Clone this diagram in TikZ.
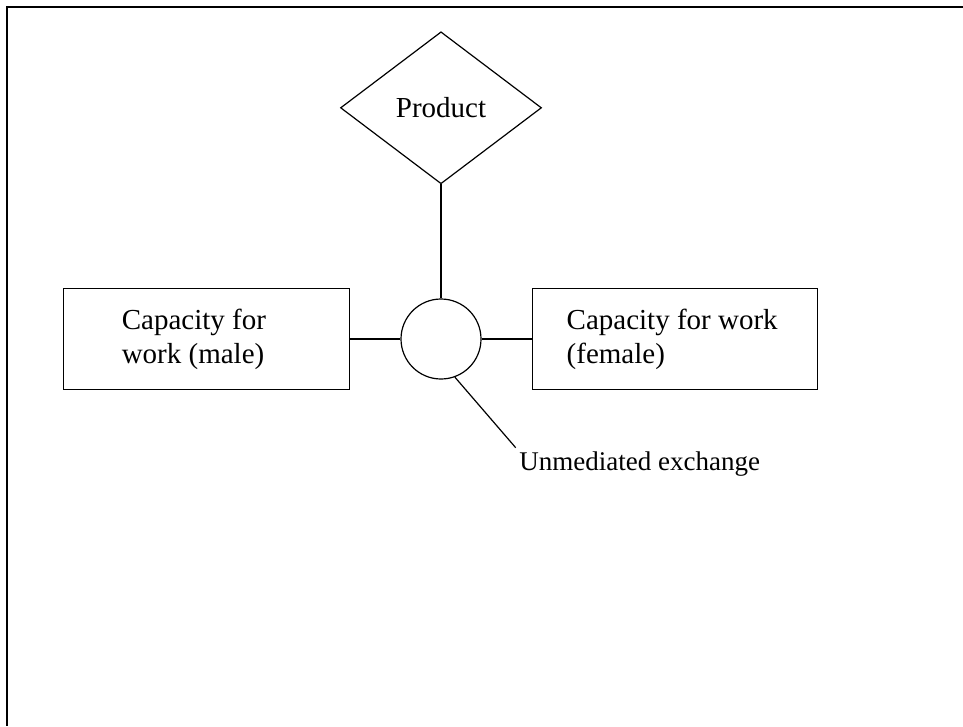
\documentclass[tikz,border=0pt]{standalone}
\usepackage{fontspec}
\setmainfont{Liberation Serif}
\usetikzlibrary{shapes.geometric,positioning}

\begin{document}
\begin{tikzpicture}[x=1pt, y=1pt, line width=1.2pt, node distance=50pt,
    font=\fontsize{29}{34}\selectfont,
    capacity/.style={rectangle, draw, align=flush left, minimum height=101pt},
    relation/.style={diamond, draw, minimum width=201pt, minimum height=152pt},
    exchange/.style={circle, draw, minimum size=80pt, inner sep=0pt}]
    \useasboundingbox (0,0) rectangle (963,-726);
    \draw[line width=1.6pt] (963,-7) -- (7,-7) -- (7,-726);
    \node (X) [exchange] at (441,-339) {};
    \node (P) [relation, above=114pt of X] {Product};
    \node (M) [capacity, left=of X, text width=170pt, inner xsep=58pt] {Capacity for\\work (male)};
    \node (F) [capacity, right=of X, text width=216pt, inner xsep=34.5pt] {Capacity for work\\(female)};
    \node (U) [below right=80pt and 46pt of X, inner sep=3pt, font=\fontsize{27}{32}\selectfont] {Unmediated exchange};
    \draw (P) -- (X);
    \draw (M) -- (X);
    \draw (X) -- (F);
    \draw (X.-70) -- (U.north west);
\end{tikzpicture}
\end{document}
